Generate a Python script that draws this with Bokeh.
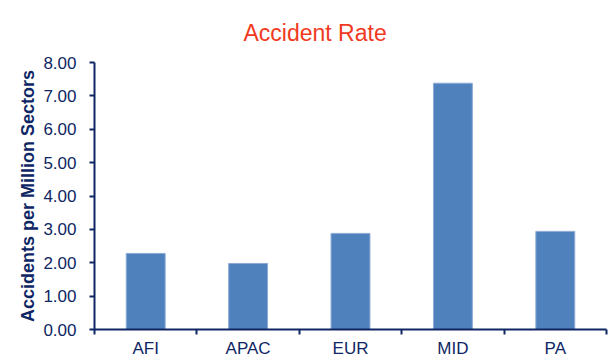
from bokeh.plotting import figure
from bokeh.models import (Range1d, LinearAxis, FixedTicker, NumeralTickFormatter,
                          ColumnDataSource)
from bokeh.embed import file_html
from bokeh.resources import INLINE

regions = ["AFI", "APAC", "EUR", "MID", "PA"]
rates = [2.28, 1.98, 2.88, 7.38, 2.94]
y_ticks = [0, 1, 2, 3, 4, 5, 6, 7, 8]

NAVY = "#0E2663"
FONT = "Liberation Sans"

n = len(regions)
centers = [i + 0.5 for i in range(n)]
edges = list(range(n + 1))

src = ColumnDataSource(dict(x=centers, region=regions, rate=rates))

p = figure(width=611, height=360, output_backend="svg", toolbar_location=None,
           x_range=Range1d(0, n), y_range=Range1d(0, 8),
           x_axis_location=None, y_axis_location=None,
           min_border_left=94, min_border_right=5, min_border_bottom=10,
           min_border_top=62)
p.outline_line_color = None
p.grid.visible = False

p.title.text = "Accident Rate"
p.title.text_color = "#F03A22"
p.title.text_font = FONT
p.title.text_font_style = "normal"
p.title.text_font_size = "23px"
p.title.align = "left"
p.title.offset = 149
p.title.standoff = 34

p.vbar(x="x", top="rate", width=0.38, source=src, fill_color="#4F81BD",
       line_color="#8EAAD6", line_width=1)

# y axis
yax = LinearAxis(ticker=FixedTicker(ticks=y_ticks),
                 formatter=NumeralTickFormatter(format="0.00"))
yax.axis_label = "Accidents per Million Sectors"
yax.axis_label_text_font = FONT
yax.axis_label_text_font_style = "bold"
yax.axis_label_text_font_size = "18px"
yax.axis_label_text_color = NAVY
yax.axis_label_standoff = 2
yax.major_label_text_font = FONT
yax.major_label_text_font_size = "17px"
yax.major_label_text_color = NAVY
yax.major_label_standoff = 13
yax.axis_line_color = NAVY
yax.axis_line_width = 2
yax.major_tick_line_color = NAVY
yax.major_tick_line_width = 2
yax.major_tick_in = 0
yax.major_tick_out = 5
yax.minor_tick_line_color = None
p.add_layout(yax, "left")

# x axis: labels at category centres, ticks (minor) at category edges
xax = LinearAxis(ticker=FixedTicker(ticks=centers, minor_ticks=edges),
                 major_label_overrides={c: r for c, r in zip(centers, regions)})
xax.axis_line_color = NAVY
xax.axis_line_width = 2
xax.major_tick_line_color = None
xax.major_tick_out = 0
xax.major_tick_in = 0
xax.minor_tick_line_color = NAVY
xax.minor_tick_line_width = 2
xax.minor_tick_in = 0
xax.minor_tick_out = 5
xax.major_label_standoff = 4
xax.major_label_text_font = FONT
xax.major_label_text_font_size = "17px"
xax.major_label_text_color = NAVY
p.add_layout(xax, "below")

open("out.html", "w").write(file_html(p, INLINE))
